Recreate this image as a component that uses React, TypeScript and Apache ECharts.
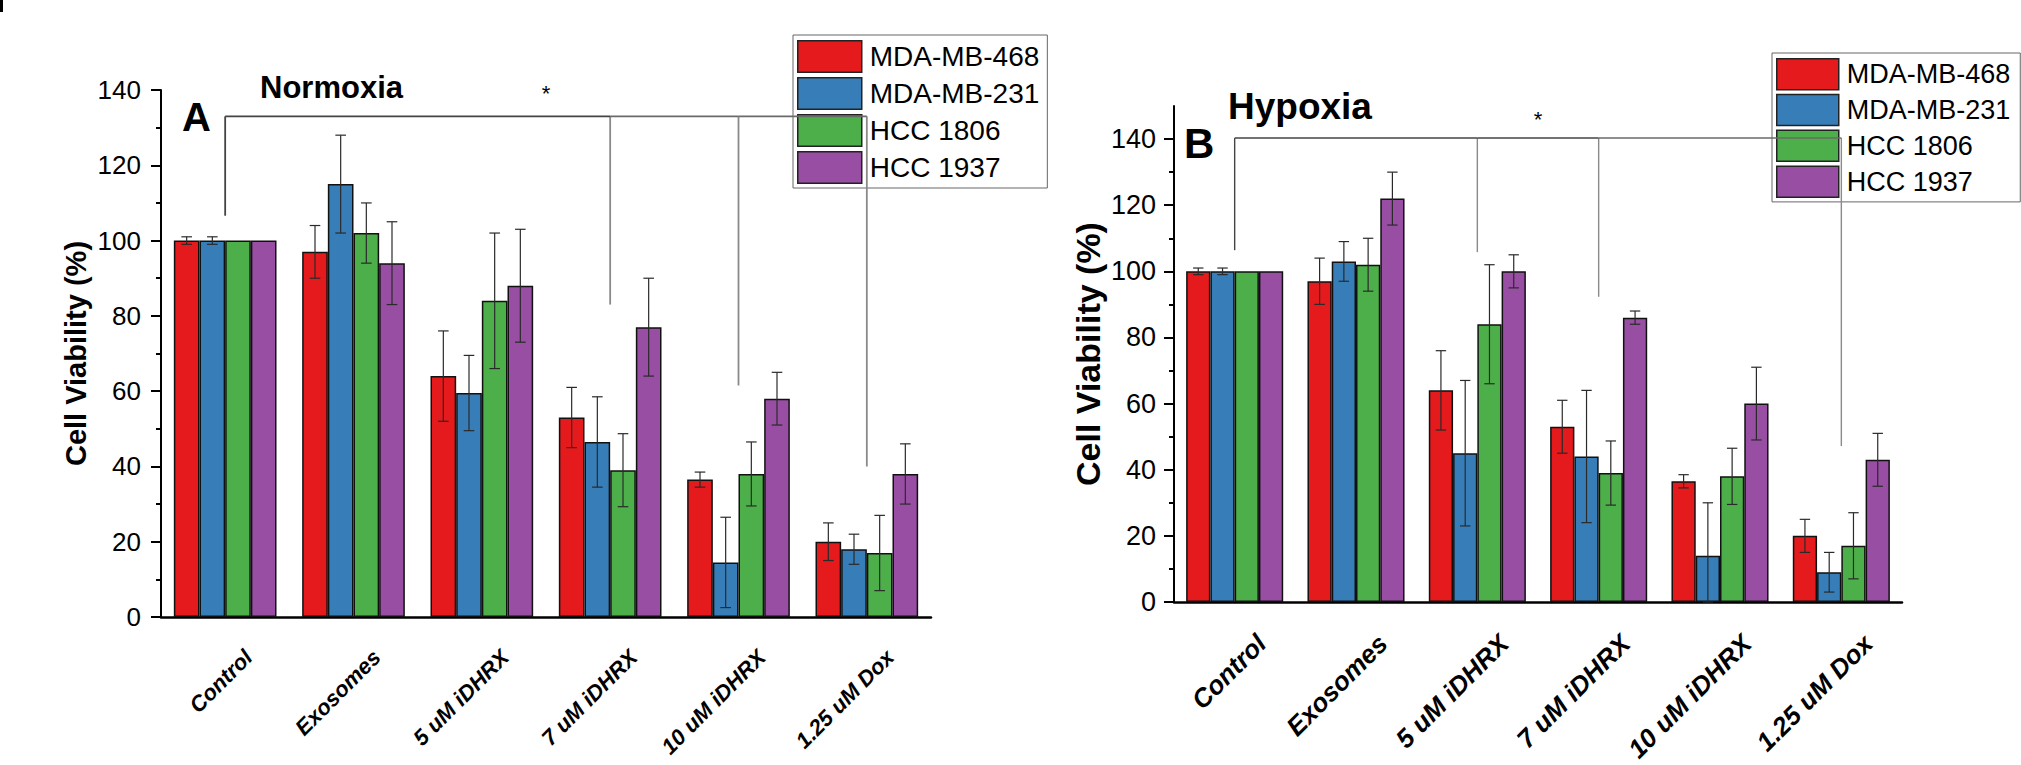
import React, { useEffect, useRef } from 'react';
import * as echarts from 'echarts';

const categories = ['Control', 'Exosomes', '5 uM iDHRX', '7 uM iDHRX', '10 uM iDHRX', '1.25 uM Dox'];
const cellLines = ['MDA-MB-468', 'MDA-MB-231', 'HCC 1806', 'HCC 1937'];

// Normoxia (panel A): mean viability (%) per cell line, per treatment
const normoxiaMeans = [
  [100, 97, 64, 53, 36.5, 20],
  [100, 115, 59.5, 46.5, 14.5, 18],
  [100, 102, 84, 39, 38, 17],
  [100, 94, 88, 77, 58, 38],
];
const normoxiaErrors = [
  [1, 7, 12, 8, 2, 5],
  [1, 13, 10, 12, 12, 4],
  [0, 8, 18, 9.7, 8.5, 10],
  [0, 11, 15, 13, 7, 8],
];

// Hypoxia (panel B)
const hypoxiaMeans = [
  [100, 97, 64, 53, 36.5, 20],
  [100, 103, 45, 44, 14, 9],
  [100, 102, 84, 39, 38, 17],
  [100, 122, 100, 86, 60, 43],
];
const hypoxiaErrors = [
  [1, 7, 12, 8, 2, 5],
  [1, 6, 22, 20, 16, 6],
  [0, 8, 18, 9.7, 8.5, 10],
  [0, 8, 5, 2, 11, 8],
];

const yTickValues = [0, 20, 40, 60, 80, 100, 120, 140];
const yMinorTickValues = [10, 30, 50, 70, 90, 110, 130];

// significance brackets: [category index, value where the drop ends]
const normoxiaBracketTop = 133;
const normoxiaBracketDrops = [[0, 106.6], [3, 83], [4, 61.5], [5, 40]];
const hypoxiaBracketTop = 140.3;
const hypoxiaBracketDrops = [[0, 106.4], [2, 105.8], [3, 92.3], [5, 47.2]];
// star: between categories, at value
const normoxiaStar = [2, 3, 139];
const hypoxiaStar = [2, 3, 146];

const colors = ['#E41A1C', '#377EB8', '#4DAF4A', '#984EA3'];
const FONT = "'Liberation Sans', Arial, Helvetica, sans-serif";

const panels = [
  {
    means: normoxiaMeans, errors: normoxiaErrors,
    bracketTop: normoxiaBracketTop, bracketDrops: normoxiaBracketDrops, star: normoxiaStar,
    grid: { left: 161, top: 90, width: 770, height: 527 },
    yMax: 140, tickFont: 26, labelMargin: 20, xFont: 22, xMargin: 60, xShift: 33,
    nameFont: 29, nameGap: 71, capHalf: 5.3, bracketWidth: 1.8,
    legend: { left: 793, top: 35, itemWidth: 64, itemHeight: 31.5, itemGap: 4, fontSize: 28, padding: [5, 8, 4, 4] },
    letter: { text: 'A', left: 182, top: 97, fontSize: 40 },
    heading: { text: 'Normoxia', left: 260, top: 72, fontSize: 31 },
  },
  {
    means: hypoxiaMeans, errors: hypoxiaErrors,
    bracketTop: hypoxiaBracketTop, bracketDrops: hypoxiaBracketDrops, star: hypoxiaStar,
    grid: { left: 1174, top: 106, width: 728, height: 496 },
    yMax: 150, tickFont: 27, labelMargin: 18, xFont: 26, xMargin: 64, xShift: 38,
    nameFont: 34, nameGap: 69, capHalf: 5.2, bracketWidth: 1.4,
    legend: { left: 1772, top: 53, itemWidth: 62, itemHeight: 31, itemGap: 3.3, fontSize: 27, padding: [5, 10, 4, 4] },
    letter: { text: 'B', left: 1184, top: 122, fontSize: 42 },
    heading: { text: 'Hypoxia', left: 1228, top: 88, fontSize: 37 },
  },
];

function buildOption() {
  const grid: any[] = [];
  const xAxis: any[] = [];
  const yAxis: any[] = [];
  const series: any[] = [];
  const legend: any[] = [];
  const title: any[] = [];

  panels.forEach((p, pi) => {
    grid.push({ ...p.grid, containLabel: false, outerBoundsMode: 'none' });
    // main x axis (ticks at category centres, labels)
    xAxis.push({
      type: 'category', gridIndex: pi, data: categories, position: 'bottom',
      axisLine: { lineStyle: { color: '#000', width: 2.5 } },
      axisTick: { alignWithLabel: true, length: 11, lineStyle: { color: '#000', width: 2 } },
      axisLabel: {
        interval: 0, rotate: 45, margin: p.xMargin, padding: [0, -p.xShift, 0, 0],
        fontSize: p.xFont, fontWeight: 'bold', fontStyle: 'italic', color: '#000', fontFamily: FONT,
      },
      splitLine: { show: false },
    });
    // boundary ticks
    xAxis.push({
      type: 'category', gridIndex: pi, data: categories, position: 'bottom',
      axisLine: { show: false },
      axisTick: { alignWithLabel: false, length: 6, lineStyle: { color: '#000', width: 2 } },
      axisLabel: { show: false },
      splitLine: { show: false },
    });
    yAxis.push({
      type: 'value', gridIndex: pi, min: 0, max: p.yMax, interval: 20, position: 'left',
      axisLine: { show: true, lineStyle: { color: '#000', width: 2 } },
      axisTick: { show: true, length: 10, customValues: yTickValues, lineStyle: { color: '#000', width: 2 } },
      axisLabel: { customValues: yTickValues, margin: p.labelMargin, fontSize: p.tickFont, color: '#000', fontFamily: FONT },
      splitLine: { show: false },
      name: 'Cell Viability (%)', nameLocation: 'middle', nameGap: p.nameGap,
      nameTextStyle: { fontSize: p.nameFont, fontWeight: 'bold', color: '#000', fontFamily: FONT },
    });
    yAxis.push({
      type: 'value', gridIndex: pi, min: 0, max: p.yMax, interval: 10, position: 'left',
      axisLine: { show: false },
      axisTick: { show: true, length: 5, customValues: yMinorTickValues, lineStyle: { color: '#000', width: 2 } },
      axisLabel: { show: false },
      splitLine: { show: false },
    });

    const xIdx = pi * 2;
    const yIdx = pi * 2;

    cellLines.forEach((name, si) => {
      series.push({
        type: 'bar', name, xAxisIndex: xIdx, yAxisIndex: yIdx,
        data: p.means[si],
        barGap: '0%', barCategoryGap: '20%',
        itemStyle: { color: colors[si], borderColor: '#111', borderWidth: 1.5 },
        z: 2,
      });
    });

    const errData: number[][] = [];
    p.means.forEach((row, si) => {
      row.forEach((m, ci) => {
        const e = p.errors[si][ci];
        if (e > 0) errData.push([ci, si, Math.max(0, m - e), m + e]);
      });
    });
    const capHalf = p.capHalf;
    series.push({
      type: 'custom', name: 'err' + pi, xAxisIndex: xIdx, yAxisIndex: yIdx,
      data: errData, encode: { x: 0, y: [2, 3] }, z: 5, silent: true,
      renderItem: (params: any, api: any) => {
        const ci = api.value(0), si = api.value(1), lo = api.value(2), hi = api.value(3);
        const band = api.size([1, 0])[0];
        const bw = (band * 0.8) / cellLines.length;
        const cx = api.coord([ci, 0])[0] + (si - (cellLines.length - 1) / 2) * bw;
        const yLo = api.coord([ci, lo])[1];
        const yHi = api.coord([ci, hi])[1];
        const st = { stroke: '#2a2a2a', lineWidth: 1.2 };
        return {
          type: 'group',
          children: [
            { type: 'line', shape: { x1: cx, y1: yLo, x2: cx, y2: yHi }, style: st },
            { type: 'line', shape: { x1: cx - capHalf, y1: yHi, x2: cx + capHalf, y2: yHi }, style: st },
            { type: 'line', shape: { x1: cx - capHalf, y1: yLo, x2: cx + capHalf, y2: yLo }, style: st },
          ],
        };
      },
    });

    const drops = p.bracketDrops;
    const bracketData = drops.map(([c, v], i) => [c, v, p.bracketTop, i === 0 ? c : drops[i - 1][0], i]);
    const bw = p.bracketWidth;
    series.push({
      type: 'custom', name: 'bracket' + pi, xAxisIndex: xIdx, yAxisIndex: yIdx,
      data: bracketData, encode: { x: 0, y: [1, 2] }, z: 20, silent: true, clip: false,
      renderItem: (params: any, api: any) => {
        const c = api.value(0), v = api.value(1), top = api.value(2), prev = api.value(3), idx = api.value(4);
        const pDrop = api.coord([c, v]);
        const pTop = api.coord([c, top]);
        const pPrev = api.coord([prev, top]);
        const children: any[] = [
          { type: 'line', shape: { x1: pTop[0], y1: pTop[1], x2: pDrop[0], y2: pDrop[1] },
            style: { stroke: idx === 0 ? '#444' : '#8a8a8a', lineWidth: bw } },
        ];
        if (idx > 0) {
          children.push({ type: 'line', shape: { x1: pPrev[0], y1: pTop[1], x2: pTop[0], y2: pTop[1] },
            style: { stroke: c <= 3 ? '#444' : '#6a6a6a', lineWidth: bw } });
        }
        return { type: 'group', children };
      },
    });

    series.push({
      type: 'custom', name: 'star' + pi, xAxisIndex: xIdx, yAxisIndex: yIdx,
      data: [p.star], encode: { x: 0, y: 2 }, z: 20, silent: true, clip: false,
      renderItem: (params: any, api: any) => {
        const a = api.coord([api.value(0), api.value(2)]);
        const b = api.coord([api.value(1), api.value(2)]);
        return {
          type: 'text',
          style: { text: '*', x: (a[0] + b[0]) / 2, y: a[1], align: 'center', verticalAlign: 'middle',
            fontSize: 22, fontFamily: FONT, fill: '#000' },
        };
      },
    });

    legend.push({
      data: cellLines, orient: 'vertical', left: p.legend.left, top: p.legend.top,
      itemWidth: p.legend.itemWidth, itemHeight: p.legend.itemHeight, itemGap: p.legend.itemGap,
      icon: 'rect', padding: p.legend.padding, borderColor: '#666', borderWidth: 1,
      backgroundColor: 'transparent', selectedMode: false,
      itemStyle: { borderColor: '#222', borderWidth: 1.5 },
      textStyle: { fontSize: p.legend.fontSize, color: '#000', fontFamily: FONT, padding: [0, 0, 0, 3], lineHeight: p.legend.itemHeight },
    });

    title.push({
      text: p.letter.text, left: p.letter.left, top: p.letter.top, padding: 0,
      textStyle: { fontSize: p.letter.fontSize, fontWeight: 'bold', color: '#000', fontFamily: FONT },
    });
    title.push({
      text: p.heading.text, left: p.heading.left, top: p.heading.top, padding: 0,
      textStyle: { fontSize: p.heading.fontSize, fontWeight: 'bold', color: '#000', fontFamily: FONT },
    });
  });

  return {
    animation: false,
    backgroundColor: '#fff',
    textStyle: { fontFamily: FONT },
    title, grid, xAxis, yAxis, legend, series,
    graphic: [{ type: 'rect', left: 0, top: 0, shape: { width: 3, height: 12 }, style: { fill: '#000' } }],
  };
}

export default function App() {
  const ref = useRef<HTMLDivElement>(null);
  useEffect(() => {
    const chart = echarts.init(ref.current!, null, { renderer: 'svg' });
    chart.setOption(buildOption() as any);
    return () => chart.dispose();
  }, []);
  return (
    <div
      ref={ref}
      style={{ position: 'absolute', left: 0, top: 0, width: 2021, height: 765, background: '#fff' }}
    />
  );
}
